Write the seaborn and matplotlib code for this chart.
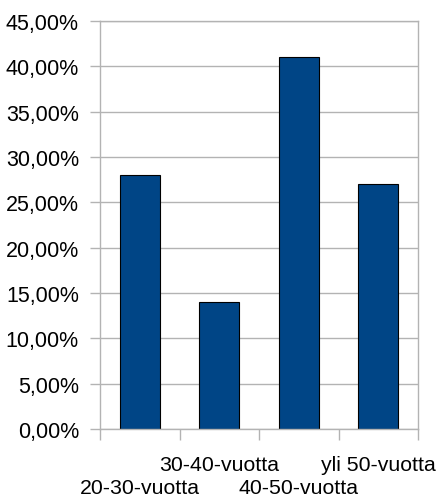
import matplotlib
matplotlib.use("Agg")
import matplotlib.pyplot as plt
import matplotlib.ticker as mticker
import seaborn as sns
import pandas as pd

# Age groups and their shares
categories = ["20-30-vuotta", "30-40-vuotta", "40-50-vuotta", "yli 50-vuotta"]
shares = [0.28, 0.14, 0.41, 0.27]
y_ticks = [0.00, 0.05, 0.10, 0.15, 0.20, 0.25, 0.30, 0.35, 0.40, 0.45]

df = pd.DataFrame({"ryhma": categories, "osuus": shares})

sns.set_style("white")
plt.rcParams["font.family"] = ["Liberation Sans", "DejaVu Sans"]

W, H = 437, 502
fig = plt.figure(figsize=(W / 100, H / 100), dpi=100)
ax = fig.add_axes([100 / W, 1 - 430 / H, 318 / W, 408 / H])

grid_col = "#b3b3b3"
sns.barplot(data=df, x="ryhma", y="osuus", ax=ax, color="#004586",
            width=0.5, edgecolor="black", linewidth=0.8, saturation=1)

ax.set_xlim(-0.5, len(categories) - 0.5)
ax.set_ylim(0, 0.45)
ax.set_yticks(y_ticks)
ax.yaxis.set_major_formatter(mticker.FuncFormatter(
    lambda v, _: f"{v * 100:.2f}%".replace(".", ",")))
ax.yaxis.grid(True, color=grid_col, linewidth=1)
ax.set_axisbelow(True)
ax.tick_params(axis="y", length=7.2, width=1, color=grid_col, pad=8,
               labelsize=15.5, labelcolor="#000000", left=True)

# category boundaries as downward tick marks
ax.set_xticks([i - 0.5 for i in range(len(categories) + 1)], minor=True)
ax.tick_params(axis="x", which="minor", length=8, width=1, color=grid_col,
               direction="out", bottom=True)
ax.tick_params(axis="x", which="major", length=0, labelsize=15.3,
               labelcolor="#000000")
for i, tick in enumerate(ax.xaxis.get_major_ticks()):
    tick.set_pad(35.5 if i % 2 == 0 else 18.5)

for s in ax.spines.values():
    s.set_color(grid_col)
    s.set_linewidth(1)

ax.set_xlabel("")
ax.set_ylabel("")

fig.savefig("out.png", dpi=100, facecolor="white")
